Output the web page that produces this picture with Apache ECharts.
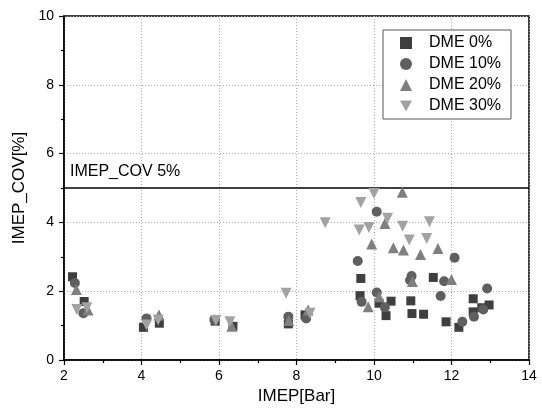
<!DOCTYPE html>
<html><head><meta charset="utf-8">
<script src="https://cdn.jsdelivr.net/npm/echarts@6/dist/echarts.min.js"></script>
<style>html,body{margin:0;padding:0;background:#fff}#c{width:542px;height:415px}</style>
</head><body><div id="c"></div>
<script>
var seriesNames = ['DME 0%', 'DME 10%', 'DME 20%', 'DME 30%'];
var dme0 = [[2.22,2.42],[2.52,1.70],[4.05,0.95],[4.46,1.07],[5.90,1.13],[6.36,0.98],[7.79,1.05],[8.22,1.31],
  [9.66,2.37],[9.64,1.87],[10.13,1.65],[10.44,1.71],[10.31,1.29],[10.95,1.72],[10.98,1.35],[11.28,1.33],
  [11.53,2.40],[11.86,1.11],[12.19,0.95],[12.56,1.78],[12.56,1.40],[12.78,1.52],[12.97,1.60]];
var dme10 = [[2.28,2.24],[2.50,1.36],[4.13,1.21],[5.88,1.17],[7.79,1.26],[8.25,1.21],
  [9.58,2.88],[9.68,1.69],[10.07,4.31],[10.07,1.96],[10.28,1.53],[10.93,2.32],[10.97,2.44],
  [11.72,1.86],[11.81,2.29],[12.08,2.97],[12.28,1.11],[12.58,1.26],[12.82,1.47],[12.92,2.08]];
var dme20 = [[2.32,2.05],[2.62,1.45],[4.45,1.31],[6.33,0.98],[7.80,1.15],[8.30,1.45],
  [9.85,1.55],[9.94,3.37],[10.13,1.84],[10.28,3.97],[10.50,3.26],[10.73,4.88],[10.76,3.20],
  [10.99,2.28],[11.20,3.07],[11.65,3.24],[12.00,2.34]];
var dme30 = [[2.33,1.47],[2.59,1.52],[4.13,1.02],[4.43,1.16],[5.92,1.15],[6.28,1.11],[7.73,1.94],[8.35,1.36],
  [8.74,3.99],[9.62,3.78],[9.66,4.58],[9.87,3.85],[10.00,4.84],[10.35,4.12],[10.74,3.89],
  [10.91,3.49],[11.36,3.53],[11.43,4.02]];
var xTicks = [2, 4, 6, 8, 10, 12, 14];
var yTicks = [0, 2, 4, 6, 8, 10];
var limitValue = 5;
var limitLabel = 'IMEP_COV 5%';

var font = 'Liberation Sans, Arial, sans-serif';
var colors = ['#3f3f3f', '#5f5f5f', '#7f7f7f', '#a2a2a2'];
var symbols = ['rect', 'circle', 'triangle', 'triangle'];
var legendIcons = ['rect', 'circle', 'triangle', 'path://M0,0 L10,0 L5,9 Z'];
var rotates = [0, 0, 0, 180];
var sizes = [9, 10, 11, 11];
var datas = [dme0, dme10, dme20, dme30];

var series = seriesNames.map(function (n, i) {
  var s = {
    name: n, type: 'scatter', data: datas[i], symbol: symbols[i], symbolSize: sizes[i],
    symbolRotate: rotates[i], itemStyle: { color: colors[i], opacity: 1 }, z: 3 + i
  };
  if (i === 0) {
    s.markLine = {
      silent: true, symbol: 'none', animation: false,
      lineStyle: { color: '#000', width: 1.5, type: 'solid' },
      label: { show: true, position: 'insideStartTop', formatter: limitLabel, color: '#000',
        fontFamily: font, fontSize: 16, distance: [6, 8] },
      data: [{ yAxis: limitValue }]
    };
  }
  return s;
});

var chart = echarts.init(document.getElementById('c'), null, { renderer: 'canvas' });
chart.setOption({
  animation: false,
  backgroundColor: '#fff',
  grid: { left: 64, right: 13, top: 16, bottom: 55, show: true, borderColor: '#000', borderWidth: 1.5, containLabel: false },
  legend: {
    orient: 'vertical', left: 383, top: 30, width: 126,
    padding: [5, 10, 5, 17], itemGap: 5, itemWidth: 12, itemHeight: 12,
    borderColor: '#555', borderWidth: 1, backgroundColor: '#fff',
    textStyle: { fontFamily: font, fontSize: 16, color: '#000', padding: [0, 0, 0, 12] },
    data: seriesNames.map(function (n, i) { return { name: n, icon: legendIcons[i] }; })
  },
  xAxis: {
    type: 'value', min: xTicks[0], max: xTicks[xTicks.length - 1], interval: 2,
    name: 'IMEP[Bar]', nameLocation: 'middle', nameGap: 28,
    nameTextStyle: { fontFamily: font, fontSize: 17, color: '#000' },
    axisLine: { show: true, lineStyle: { color: '#000', width: 1.5 } },
    axisTick: { show: true, length: 5, lineStyle: { color: '#000', width: 1.2 } },
    minorTick: { show: true, splitNumber: 2, length: 3, lineStyle: { color: '#000', width: 1.2 } },
    axisLabel: { fontFamily: font, fontSize: 14, color: '#000', margin: 9 },
    splitLine: { show: true, lineStyle: { color: '#aaa', type: [1, 2], width: 1 } }
  },
  yAxis: {
    type: 'value', min: yTicks[0], max: yTicks[yTicks.length - 1], interval: 2,
    name: 'IMEP_COV[%]', nameLocation: 'middle', nameGap: 29,
    nameTextStyle: { fontFamily: font, fontSize: 17, color: '#000' },
    axisLine: { show: true, lineStyle: { color: '#000', width: 1.5 } },
    axisTick: { show: true, length: 5, lineStyle: { color: '#000', width: 1.2 } },
    minorTick: { show: true, splitNumber: 2, length: 3, lineStyle: { color: '#000', width: 1.2 } },
    axisLabel: { fontFamily: font, fontSize: 14, color: '#000', margin: 10 },
    splitLine: { show: true, lineStyle: { color: '#aaa', type: [1, 2], width: 1 } }
  },
  series: series
});
</script></body></html>
